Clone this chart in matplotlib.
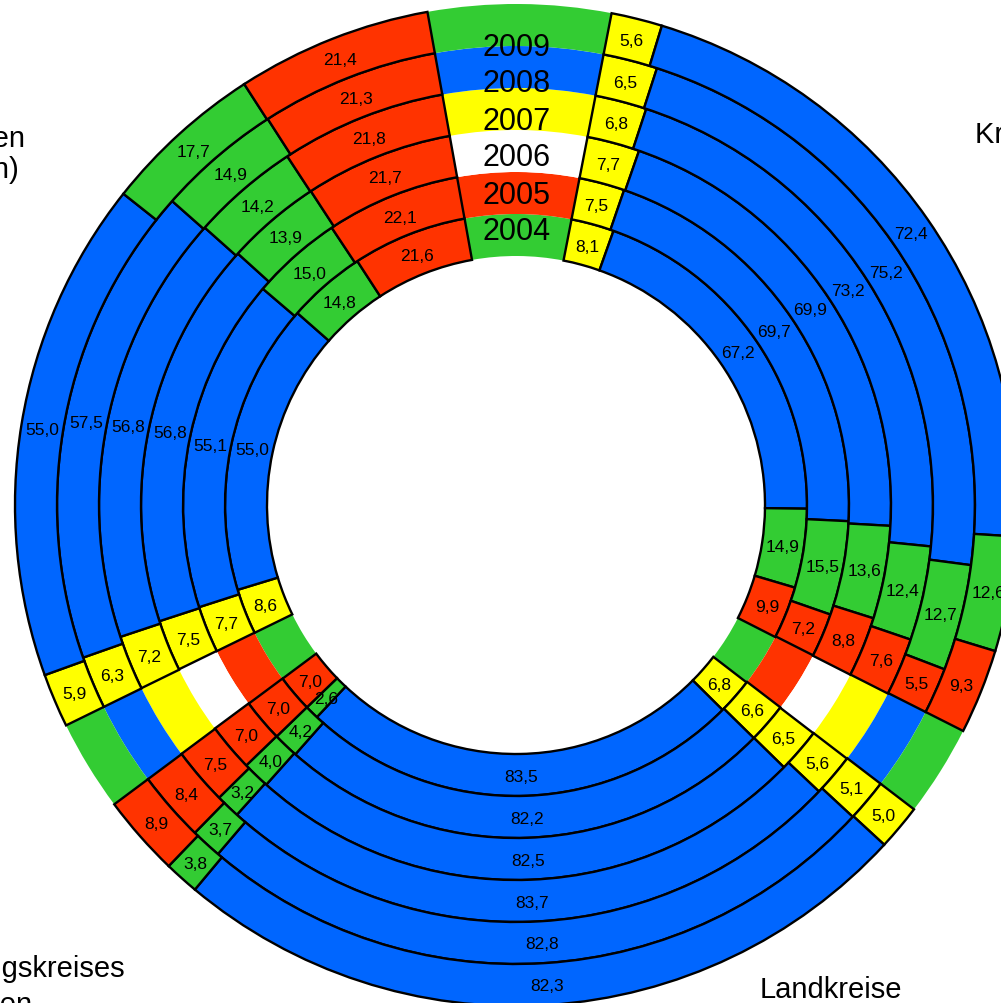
import numpy as np
import matplotlib.pyplot as plt

plt.rcParams['font.family'] = ['Liberation Sans', 'DejaVu Sans']

years = ['2004', '2005', '2006', '2007', '2008', '2009']
year_colors = ['#33cc33', '#ff3300', '#ffffff', '#ffff00', '#0066ff', '#33cc33']

# Reihenfolge im Uhrzeigersinn: gelb, blau, grün, rot
party_colors = ['#ffff00', '#0066ff', '#33cc33', '#ff3300']

# Kreisfreie Städte
kf_gelb = [8.1, 7.5, 7.7, 6.8, 6.5, 5.6]
kf_blau = [67.2, 69.7, 69.9, 73.2, 75.2, 72.4]
kf_gruen = [14.9, 15.5, 13.6, 12.4, 12.7, 12.6]
kf_rot = [9.9, 7.2, 8.8, 7.6, 5.5, 9.3]

# Landkreise
lk_gelb = [6.8, 6.6, 6.5, 5.6, 5.1, 5.0]
lk_blau = [83.5, 82.2, 82.5, 83.7, 82.8, 82.3]
lk_gruen = [2.6, 4.2, 4.0, 3.2, 3.7, 3.8]
lk_rot = [7.0, 7.0, 7.0, 7.5, 8.4, 8.9]

# linke Gruppe
gm_gelb = [8.6, 7.7, 7.5, 7.2, 6.3, 5.9]
gm_blau = [55.0, 55.1, 56.8, 56.8, 57.5, 55.0]
gm_gruen = [14.8, 15.0, 13.9, 14.2, 14.9, 17.7]
gm_rot = [21.6, 22.1, 21.7, 21.8, 21.3, 21.4]

groups = [
    [kf_gelb, kf_blau, kf_gruen, kf_rot],
    [lk_gelb, lk_blau, lk_gruen, lk_rot],
    [gm_gelb, gm_blau, gm_gruen, gm_rot],
]
gaps = [10, 10, 20]  # Lücken nach jeder Gruppe (oben 20)

r_in = 249
ring_w = 42

fig = plt.figure(figsize=(10.01, 10.04), dpi=100)
ax = fig.add_axes([0, 0, 1, 1])

for i, year in enumerate(years):
    vals, cols, is_gap = [], [], []
    for grp, gap in zip(groups, gaps):
        for p in range(4):
            vals.append(grp[p][i])
            cols.append(party_colors[p])
            is_gap.append(False)
        vals.append(gap)
        cols.append(year_colors[i])
        is_gap.append(True)

    r_out = r_in + ring_w * (i + 1)
    wedges, _ = ax.pie(vals, colors=cols, radius=r_out, startangle=79,
                       counterclock=False,
                       wedgeprops=dict(width=ring_w, edgecolor='black', linewidth=1.7))
    for w, v, g in zip(wedges, vals, is_gap):
        if g:
            w.set_edgecolor('none')
            w.set_linewidth(0)
            w.set_zorder(1)
            continue
        w.set_zorder(2)
        ang = np.deg2rad((w.theta1 + w.theta2) / 2)
        rm = r_out - ring_w / 2
        ax.text(rm * np.cos(ang), rm * np.sin(ang), f'{v:.1f}'.replace('.', ','),
                ha='center', va='center_baseline', fontsize=12.5, zorder=3)

    # Jahreszahlen in der oberen Lücke
    ax.text(1, 277 + 37 * i, year, ha='center', va='center_baseline',
            fontsize=22, zorder=3)

# Gruppenbeschriftungen
ax.text(459, 363, 'Kreisfreie Städte', ha='left', va='baseline', fontsize=21)
ax.text(244, -492, 'Landkreise', ha='left', va='baseline', fontsize=21)
ax.text(-491, 359, 'Kreisangehörige Gemeinden', ha='right', va='baseline', fontsize=21)
ax.text(-497, 328, '(mit eigenen Verwaltungen)', ha='right', va='baseline', fontsize=21)
ax.text(-391, -471, 'Gemeinden des Verwaltungskreises', ha='right', va='baseline', fontsize=21)
ax.text(-484, -507, 'ohne eigene Verwaltungen', ha='right', va='baseline', fontsize=21)

ax.set_xlim(-516, 1001 - 516)
ax.set_ylim(-(1004 - 506), 506)
ax.set_aspect('equal')
ax.axis('off')

fig.savefig('out.png', dpi=100)
